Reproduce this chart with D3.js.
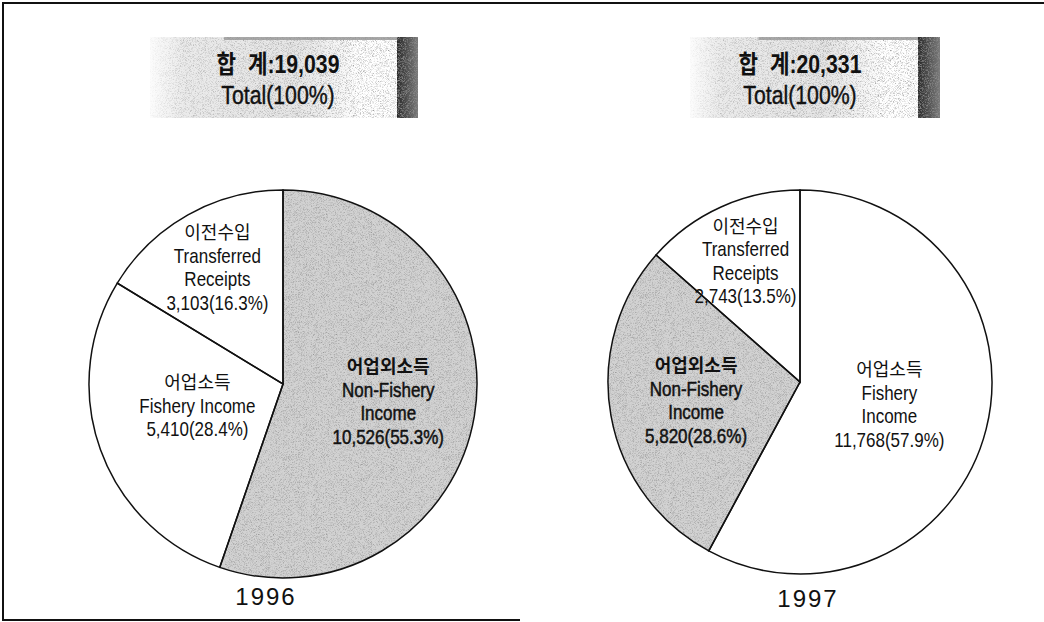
<!DOCTYPE html>
<html>
<head>
<meta charset="utf-8">
<script src="https://cdn.jsdelivr.net/npm/d3@7"></script>
<style>
  body { margin: 0; background: #fff; }
  svg { display: block; }
</style>
</head>
<body>
<div id="chart"></div>
<script>
// data
const years = ["1996", "1997"];
const totals = ["19,039", "20,331"];
const categoryKo = ["어업소득", "어업외소득", "이전수입"];
const categoryEn = ["Fishery Income", "Non-Fishery Income", "Transferred Receipts"];
const values1996 = [5410, 10526, 3103];
const values1997 = [11768, 5820, 2743];
const shares1996 = [28.4, 55.3, 16.3];
const shares1997 = [57.9, 28.6, 13.5];

// how the English part of each label is broken into lines, per year
const enLines1996 = [["Fishery Income"], ["Non-Fishery", "Income"], ["Transferred", "Receipts"]];
const enLines1997 = [["Fishery", "Income"], ["Non-Fishery", "Income"], ["Transferred", "Receipts"]];

const width = 1044, height = 622;
const sans = "'Liberation Sans', Arial, 'Noto Sans CJK KR', sans-serif";
const korean = "'Noto Sans CJK KR', 'Noto Sans CJK SC', sans-serif";
const squeeze = 0.85; // the print uses a condensed face

const svg = d3.select("#chart").append("svg")
    .attr("width", width)
    .attr("height", height);

const defs = svg.append("defs");

// speckled print texture
const grain = defs.append("filter").attr("id", "grain")
    .attr("x", 0).attr("y", 0).attr("width", 1).attr("height", 1);
grain.append("feTurbulence")
    .attr("type", "fractalNoise").attr("baseFrequency", 1.6)
    .attr("numOctaves", 1).attr("seed", 7).attr("result", "noise");
grain.append("feColorMatrix").attr("in", "noise").attr("type", "matrix")
    .attr("values", "0 0 0 0 0.3  0 0 0 0 0.3  0 0 0 0 0.3  2.6 0 0 0 -1.2")
    .attr("result", "dots");
grain.append("feComposite").attr("in", "dots").attr("in2", "SourceGraphic")
    .attr("operator", "in").attr("result", "dots2");
const gm = grain.append("feMerge");
gm.append("feMergeNode").attr("in", "SourceGraphic");
gm.append("feMergeNode").attr("in", "dots2");

const boxGrad = defs.append("linearGradient").attr("id", "boxGrad");
boxGrad.append("stop").attr("offset", "0%").attr("stop-color", "#e2e2e2").attr("stop-opacity", 0.1);
boxGrad.append("stop").attr("offset", "14%").attr("stop-color", "#e2e2e2").attr("stop-opacity", 0.7);
boxGrad.append("stop").attr("offset", "60%").attr("stop-color", "#e6e6e6").attr("stop-opacity", 1);
boxGrad.append("stop").attr("offset", "85%").attr("stop-color", "#ffffff").attr("stop-opacity", 1);
boxGrad.append("stop").attr("offset", "100%").attr("stop-color", "#ffffff").attr("stop-opacity", 1);

const stripGrad = defs.append("linearGradient").attr("id", "stripGrad");
stripGrad.append("stop").attr("offset", "0%").attr("stop-color", "#2a2a2a");
stripGrad.append("stop").attr("offset", "100%").attr("stop-color", "#7a7a7a");

// outer frame (top, left, bottom)
svg.append("path")
    .attr("d", "M1044,3 H3 V620 H520")
    .attr("fill", "none")
    .attr("stroke", "#111")
    .attr("stroke-width", 2);

const panels = [
    { year: years[0], total: totals[0], values: values1996, shares: shares1996, en: enLines1996,
      cx: 283, cy: 384, r: 194, box: [150, 397, 418], textX: 278, yearX: 266, yearY: 605,
      nudge: [[2, -10], [0, 0], [0, 0]] },
    { year: years[1], total: totals[1], values: values1997, shares: shares1997, en: enLines1997,
      cx: 800, cy: 382, r: 192, box: [690, 918, 940], textX: 800, yearX: 808, yearY: 607,
      nudge: [[0, 0], [0, 0], [0, 0]] }
];

// label radius by slice rank (largest first)
const labelRadius = [0.48, 0.55, 0.69];

function condensedText(parent, x, y) {
    return parent.append("g")
        .attr("transform", `translate(${x},${y}) scale(${squeeze},1)`)
        .append("text")
        .attr("text-anchor", "middle")
        .style("font-family", sans)
        .attr("fill", "#111");
}

panels.forEach(p => {
    const data = categoryKo.map((k, i) => ({ i: i, value: p.values[i], share: p.shares[i] }));
    const pie = d3.pie().value(d => d.value); // default descending sort matches the picture
    const arcs = pie(data);
    const arc = d3.arc().innerRadius(0).outerRadius(p.r);

    const g = svg.append("g").attr("transform", `translate(${p.cx},${p.cy})`);

    g.selectAll(".slice")
        .data(arcs)
        .enter().append("path")
        .attr("class", "slice")
        .attr("d", arc)
        .attr("fill", d => d.data.i === 1 ? "#d2d2d2" : "#ffffff")
        .attr("filter", d => d.data.i === 1 ? "url(#grain)" : null);

    g.selectAll(".edge")
        .data(arcs)
        .enter().append("path")
        .attr("class", "edge")
        .attr("d", arc)
        .attr("fill", "none")
        .attr("stroke", "#111")
        .attr("stroke-width", 1.5);

    arcs.forEach((a, rank) => {
        const la = d3.arc().innerRadius(p.r * labelRadius[rank]).outerRadius(p.r * labelRadius[rank]);
        const c = la.centroid(a);
        const lx = c[0] + p.nudge[rank][0], ly = c[1] + p.nudge[rank][1];
        const en = p.en[a.data.i].concat([d3.format(",")(a.data.value) + "(" + a.data.share + "%)"]);
        const n = en.length + 1;
        const lh = 23.5;
        const top = ly - (n - 1) / 2 * lh + 7;
        const shaded = a.data.i === 1;

        g.append("text")
            .attr("x", lx).attr("y", top)
            .attr("text-anchor", "middle")
            .style("font-family", korean)
            .style("font-size", "18px")
            .style("font-weight", shaded ? 700 : 400)
            .attr("fill", "#111")
            .text(categoryKo[a.data.i]);

        const t = condensedText(g, lx, top)
            .style("font-size", "20px")
            .attr("stroke", shaded ? "#111" : "none")
            .attr("stroke-width", shaded ? 0.5 : 0);
        en.forEach((s, j) => {
            t.append("tspan")
                .attr("x", 0)
                .attr("y", (j + 1) * lh)
                .text(s);
        });
    });

    // total box
    const [bx0, bx1, bx2] = p.box;
    const by0 = 37, by1 = 118;
    svg.append("rect")
        .attr("x", bx0).attr("y", by0)
        .attr("width", bx1 - bx0).attr("height", by1 - by0)
        .attr("fill", "url(#boxGrad)")
        .attr("filter", "url(#grain)");
    svg.append("rect")
        .attr("x", bx0 + (bx1 - bx0) * 0.3).attr("y", by0)
        .attr("width", (bx1 - bx0) * 0.7).attr("height", 3)
        .attr("fill", "#a8a8a8")
        .attr("filter", "url(#grain)");
    svg.append("rect")
        .attr("x", bx1).attr("y", by0)
        .attr("width", bx2 - bx1).attr("height", by1 - by0)
        .attr("fill", "url(#stripGrad)")
        .attr("filter", "url(#grain)");

    condensedText(svg, p.textX, 73)
        .style("font-size", "25px")
        .style("font-weight", "bold")
        .attr("xml:space", "preserve")
        .text("합  계:" + p.total);

    condensedText(svg, p.textX, 104)
        .style("font-size", "25px")
        .attr("stroke", "#111")
        .attr("stroke-width", 0.4)
        .text("Total(100%)");

    // year under the pie
    svg.append("text")
        .attr("x", p.yearX).attr("y", p.yearY)
        .attr("text-anchor", "middle")
        .style("font-family", sans)
        .style("font-size", "24px")
        .style("letter-spacing", "2px")
        .attr("fill", "#111")
        .text(p.year);
});
</script>
</body>
</html>
